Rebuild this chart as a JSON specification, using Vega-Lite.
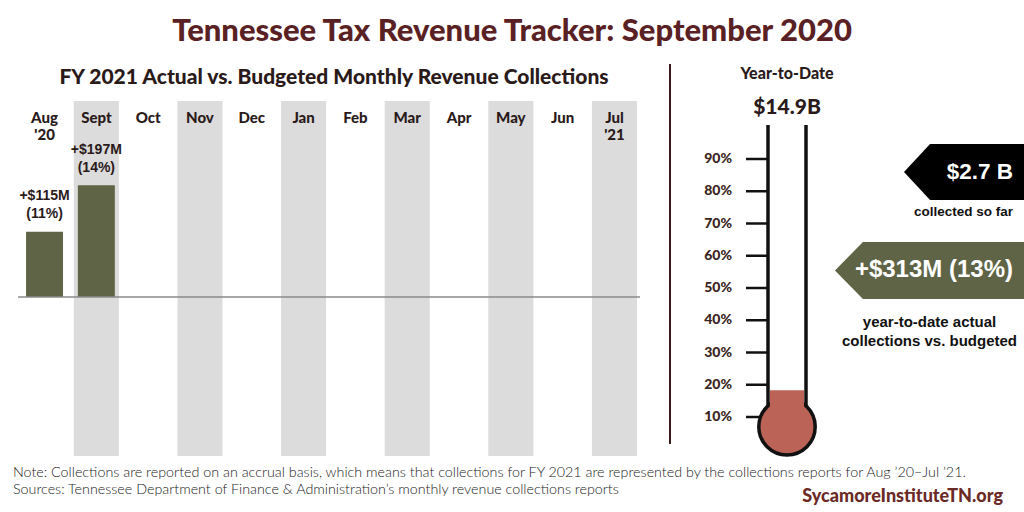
{
  "$schema": "https://vega.github.io/schema/vega-lite/v6.json",
  "width": 1024,
  "height": 512,
  "autosize": "none",
  "padding": 0,
  "background": "#ffffff",
  "config": {"view": {"stroke": null}, "text": {"font": "Lato"}},
  "datasets": {
    "months": [
      {"month": "Aug", "label": "Aug\n'20", "shaded": false},
      {"month": "Sept", "label": "Sept", "shaded": true},
      {"month": "Oct", "label": "Oct", "shaded": false},
      {"month": "Nov", "label": "Nov", "shaded": true},
      {"month": "Dec", "label": "Dec", "shaded": false},
      {"month": "Jan", "label": "Jan", "shaded": true},
      {"month": "Feb", "label": "Feb", "shaded": false},
      {"month": "Mar", "label": "Mar", "shaded": true},
      {"month": "Apr", "label": "Apr", "shaded": false},
      {"month": "May", "label": "May", "shaded": true},
      {"month": "Jun", "label": "Jun", "shaded": false},
      {"month": "Jul", "label": "Jul\n'21", "shaded": true}
    ],
    "revenue": [
      {"month": "Aug", "diff": 115, "pct": 11, "label": "+$115M\n(11%)"},
      {"month": "Sept", "diff": 197, "pct": 14, "label": "+$197M\n(14%)"}
    ],
    "ytd": [{"collectedB": 2.7, "totalB": 14.9, "collectedPct": 18.3, "overM": 313, "overPct": 13}],
    "ticks": [
      {"pct": 10, "label": "10%"}, {"pct": 20, "label": "20%"}, {"pct": 30, "label": "30%"},
      {"pct": 40, "label": "40%"}, {"pct": 50, "label": "50%"}, {"pct": 60, "label": "60%"},
      {"pct": 70, "label": "70%"}, {"pct": 80, "label": "80%"}, {"pct": 90, "label": "90%"}
    ]
  },
  "layer": [
    {
      "layer": [
        {
          "data": {"name": "months"},
          "transform": [{"filter": "datum.shaded"}],
          "mark": {"type": "rect", "fill": "#dcdcdc"},
          "encoding": {
            "x": {"field": "month", "type": "nominal", "sort": null, "axis": null,
              "scale": {"type": "band", "domain": ["Aug", "Sept", "Oct", "Nov", "Dec", "Jan", "Feb", "Mar", "Apr", "May", "Jun", "Jul"], "range": [22, 637], "paddingInner": 0.13, "paddingOuter": 0}},
            "y": {"datum": 345.7, "type": "quantitative", "axis": null,
              "scale": {"domain": [-280.4, 345.7], "range": [456, 101], "nice": false, "zero": false}},
            "y2": {"datum": -280.4}
          }
        },
        {
          "data": {"name": "revenue"},
          "mark": {"type": "bar", "fill": "#5f6446", "width": {"band": 0.82}},
          "encoding": {
            "x": {"field": "month", "type": "nominal", "sort": null, "axis": null},
            "y": {"field": "diff", "type": "quantitative", "axis": null},
            "y2": {"datum": 0}
          }
        },
        {
          "data": {"name": "revenue"},
          "mark": {"type": "text", "font": "Liberation Sans", "fontWeight": "bold", "fontSize": 14, "lineBreak": "\n", "lineHeight": 18, "baseline": "bottom", "dy": -28.5, "color": "#2a1a1a"},
          "encoding": {
            "x": {"field": "month", "type": "nominal", "sort": null, "axis": null},
            "y": {"field": "diff", "type": "quantitative", "axis": null},
            "text": {"field": "label", "type": "nominal"}
          }
        },
        {
          "data": {"name": "months"},
          "mark": {"type": "text", "font": "Lato", "fontWeight": 900, "fontSize": 15, "lineBreak": "\n", "lineHeight": 17, "baseline": "top", "color": "#2a1a1a"},
          "encoding": {
            "x": {"field": "month", "type": "nominal", "sort": null, "axis": null},
            "y": {"datum": 327.2, "type": "quantitative", "axis": null},
            "text": {"field": "label", "type": "nominal"}
          }
        }
      ]
    },
    {
      "layer": [
        {
          "data": {"values": [{"item": "divider"}]},
          "mark": {"type": "rule", "stroke": "#3a1a1a", "strokeWidth": 2},
          "encoding": {
            "x": {"datum": -6.158, "type": "quantitative", "axis": null,
              "scale": {"domain": [-1, 1], "range": [768, 806], "nice": false, "zero": false}},
            "y": {"datum": 119.46, "type": "quantitative", "axis": null,
              "scale": {"domain": [0, 100], "range": [449.25, 126.75], "nice": false, "zero": false}},
            "y2": {"datum": 1.63}
          }
        },
        {
          "data": {"values": [{"item": "zero line"}]},
          "mark": {"type": "rule", "stroke": "#8a8a8a", "strokeWidth": 1.5},
          "encoding": {
            "x": {"datum": -40.47, "type": "quantitative", "axis": null},
            "x2": {"datum": -7.737},
            "y": {"datum": 47.21, "type": "quantitative", "axis": null}
          }
        },
        {
          "data": {"values": [{"text": "FY 2021 Actual vs. Budgeted Monthly Revenue Collections"}]},
          "mark": {"type": "text", "font": "Lato", "fontWeight": 900, "fontSize": 21, "baseline": "middle", "align": "center", "color": "#2a1a1a"},
          "encoding": {
            "x": {"datum": -23.842, "type": "quantitative", "axis": null},
            "y": {"datum": 115.19, "type": "quantitative", "axis": null},
            "text": {"field": "text", "type": "nominal"}
          }
        },
        {
          "data": {"name": "ticks"},
          "mark": {"type": "rule", "stroke": "#111111", "strokeWidth": 2.5},
          "encoding": {
            "x": {"datum": -2.158, "type": "quantitative", "axis": null},
            "x2": {"datum": -1},
            "y": {"field": "pct", "type": "quantitative", "axis": null}
          }
        },
        {
          "data": {"name": "ticks"},
          "mark": {"type": "text", "font": "Lato", "fontWeight": 900, "fontSize": 14, "align": "right", "baseline": "middle", "color": "#3a2420"},
          "encoding": {
            "x": {"datum": -2.895, "type": "quantitative", "axis": null},
            "y": {"field": "pct", "type": "quantitative", "axis": null},
            "text": {"field": "label", "type": "nominal"}
          }
        },
        {
          "data": {"values": [{"edge": "left"}]},
          "mark": {"type": "rule", "stroke": "#111111", "strokeWidth": 3.5},
          "encoding": {
            "x": {"datum": -1, "type": "quantitative", "axis": null},
            "y": {"datum": 13.41, "type": "quantitative", "axis": null},
            "y2": {"datum": 100.54}
          }
        },
        {
          "data": {"values": [{"edge": "right"}]},
          "mark": {"type": "rule", "stroke": "#111111", "strokeWidth": 3.5},
          "encoding": {
            "x": {"datum": 1, "type": "quantitative", "axis": null},
            "y": {"datum": 13.41, "type": "quantitative", "axis": null},
            "y2": {"datum": 100.54}
          }
        },
        {
          "data": {"name": "ytd"},
          "mark": {"type": "point", "shape": "circle", "size": 3181, "filled": true, "fill": "#bb6357", "stroke": "#111111", "strokeWidth": 3.5, "opacity": 1, "fillOpacity": 1, "strokeOpacity": 1},
          "encoding": {
            "x": {"datum": 0, "type": "quantitative", "axis": null},
            "y": {"datum": 6.99, "type": "quantitative", "axis": null}
          }
        },
        {
          "data": {"name": "ytd"},
          "mark": {"type": "rect", "fill": "#bb6357"},
          "encoding": {
            "x": {"datum": -0.895, "type": "quantitative", "axis": null},
            "x2": {"datum": 0.895},
            "y": {"field": "collectedPct", "type": "quantitative", "axis": null},
            "y2": {"datum": 8}
          }
        },
        {
          "data": {"name": "ytd"},
          "mark": {"type": "point", "shape": "M0,0L0.93,-1L4.5,-1L4.5,1L0.93,1Z", "size": 3136, "filled": true, "fill": "#000000", "strokeWidth": 0, "opacity": 1},
          "encoding": {
            "x": {"datum": 6.158, "type": "quantitative", "axis": null},
            "y": {"datum": 85.97, "type": "quantitative", "axis": null}
          }
        },
        {
          "data": {"values": [{"text": "$2.7 B"}]},
          "mark": {"type": "text", "font": "Liberation Sans", "fontWeight": "bold", "fontSize": 22.5, "align": "right", "baseline": "middle", "color": "#ffffff"},
          "encoding": {
            "x": {"datum": 11.895, "type": "quantitative", "axis": null},
            "y": {"datum": 85.97, "type": "quantitative", "axis": null},
            "text": {"field": "text", "type": "nominal"}
          }
        },
        {
          "data": {"values": [{"text": "collected so far"}]},
          "mark": {"type": "text", "font": "Liberation Sans", "fontWeight": "bold", "fontSize": 13.5, "align": "right", "baseline": "middle", "color": "#111111"},
          "encoding": {
            "x": {"datum": 11.895, "type": "quantitative", "axis": null},
            "y": {"datum": 73.57, "type": "quantitative", "axis": null},
            "text": {"field": "text", "type": "nominal"}
          }
        },
        {
          "data": {"name": "ytd"},
          "mark": {"type": "point", "shape": "M0,0L0.98,-1L7,-1L7,1L0.98,1Z", "size": 3249, "filled": true, "fill": "#5f6446", "strokeWidth": 0, "opacity": 1},
          "encoding": {
            "x": {"datum": 2.526, "type": "quantitative", "axis": null},
            "y": {"datum": 55.43, "type": "quantitative", "axis": null}
          }
        },
        {
          "data": {"values": [{"text": "+$313M (13%)"}]},
          "mark": {"type": "text", "font": "Liberation Sans", "fontWeight": "bold", "fontSize": 24, "align": "right", "baseline": "middle", "color": "#ffffff"},
          "encoding": {
            "x": {"datum": 11.895, "type": "quantitative", "axis": null},
            "y": {"datum": 55.43, "type": "quantitative", "axis": null},
            "text": {"field": "text", "type": "nominal"}
          }
        },
        {
          "data": {"values": [{"text": "year-to-date actual\ncollections vs. budgeted"}]},
          "mark": {"type": "text", "font": "Liberation Sans", "fontWeight": "bold", "fontSize": 15, "align": "center", "baseline": "middle", "lineBreak": "\n", "lineHeight": 19, "color": "#111111"},
          "encoding": {
            "x": {"datum": 7.5, "type": "quantitative", "axis": null},
            "y": {"datum": 39.46, "type": "quantitative", "axis": null},
            "text": {"field": "text", "type": "nominal"}
          }
        },
        {
          "data": {"values": [{"text": "Year-to-Date"}]},
          "mark": {"type": "text", "font": "Lato", "fontWeight": 900, "fontSize": 16, "align": "center", "baseline": "middle", "color": "#2a1a1a"},
          "encoding": {
            "x": {"datum": 0, "type": "quantitative", "axis": null},
            "y": {"datum": 116.36, "type": "quantitative", "axis": null},
            "text": {"field": "text", "type": "nominal"}
          }
        },
        {
          "data": {"values": [{"text": "$14.9B"}]},
          "mark": {"type": "text", "font": "Lato", "fontWeight": 900, "fontSize": 21, "align": "center", "baseline": "middle", "color": "#2a1a1a"},
          "encoding": {
            "x": {"datum": 0, "type": "quantitative", "axis": null},
            "y": {"datum": 105.81, "type": "quantitative", "axis": null},
            "text": {"field": "text", "type": "nominal"}
          }
        },
        {
          "data": {"values": [{"text": "Tennessee Tax Revenue Tracker: September 2020"}]},
          "mark": {"type": "text", "font": "Lato", "fontWeight": 900, "fontSize": 31, "align": "center", "baseline": "middle", "color": "#5a2124"},
          "encoding": {
            "x": {"datum": -14.474, "type": "quantitative", "axis": null},
            "y": {"datum": 129.37, "type": "quantitative", "axis": null},
            "text": {"field": "text", "type": "nominal"}
          }
        },
        {
          "data": {"values": [{"text": "Note: Collections are reported on an accrual basis, which means that collections for FY 2021 are represented by the collections reports for Aug ’20–Jul ’21."}]},
          "mark": {"type": "text", "font": "Lato", "fontWeight": 300, "fontSize": 14.3, "align": "left", "baseline": "middle", "color": "#222222"},
          "encoding": {
            "x": {"datum": -40.737, "type": "quantitative", "axis": null},
            "y": {"datum": -7.36, "type": "quantitative", "axis": null},
            "text": {"field": "text", "type": "nominal"}
          }
        },
        {
          "data": {"values": [{"text": "Sources: Tennessee Department of Finance & Administration’s monthly revenue collections reports"}]},
          "mark": {"type": "text", "font": "Lato", "fontWeight": 300, "fontSize": 14.3, "align": "left", "baseline": "middle", "color": "#222222"},
          "encoding": {
            "x": {"datum": -40.737, "type": "quantitative", "axis": null},
            "y": {"datum": -12.64, "type": "quantitative", "axis": null},
            "text": {"field": "text", "type": "nominal"}
          }
        },
        {
          "data": {"values": [{"text": "SycamoreInstituteTN.org"}]},
          "mark": {"type": "text", "font": "Lato", "fontWeight": 900, "fontSize": 18, "align": "right", "baseline": "middle", "color": "#6b2a26"},
          "encoding": {
            "x": {"datum": 11.368, "type": "quantitative", "axis": null},
            "y": {"datum": -14.81, "type": "quantitative", "axis": null},
            "text": {"field": "text", "type": "nominal"}
          }
        }
      ]
    }
  ],
  "resolve": {"scale": {"x": "independent", "y": "independent"}}
}
